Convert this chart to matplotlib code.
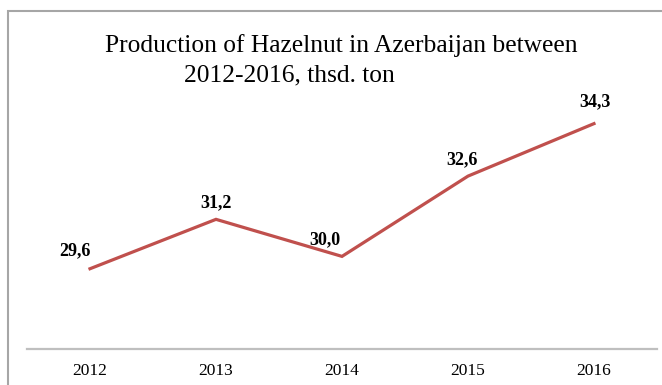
import matplotlib.pyplot as plt
from matplotlib.patches import Rectangle

years = ['2012', '2013', '2014', '2015', '2016']
production = [29.6, 31.2, 30.0, 32.6, 34.3]
value_labels = ['29,6', '31,2', '30,0', '32,6', '34,3']

# label offsets (points) relative to each data point
label_offsets = [(-11, 7), (0, 6), (-12, 6), (-4, 6), (1, 10)]

plt.rcParams['font.family'] = ['Liberation Serif', 'DejaVu Serif']

fig = plt.figure(figsize=(6.62, 3.85), dpi=100)
ax = fig.add_axes([0.0408, 0.0935, 0.9516, 0.6415])

x = range(len(years))
ax.plot(x, production, color='#C0504D', linewidth=2.3, solid_joinstyle='miter')

for xi, yi, txt, off in zip(x, production, value_labels, label_offsets):
    ax.annotate(txt, (xi, yi), xytext=off, textcoords='offset points',
                ha='center', va='bottom', fontsize=13, fontweight='bold')

ax.set_xlim(-0.5, len(years) - 0.5)
ax.set_ylim(27, 35)
ax.set_xticks(list(x))
ax.set_xticklabels(years, fontsize=12.5)
ax.tick_params(axis='x', length=0, pad=10)
ax.set_yticks([])

for side in ['top', 'right', 'left']:
    ax.spines[side].set_visible(False)
ax.spines['bottom'].set_color('#BFBFBF')
ax.spines['bottom'].set_linewidth(1.6)

# chart border, running off the right and bottom edges
fig.patches.append(Rectangle((8 / 662, -0.1), 1.2, (385 - 11) / 385 + 0.1,
                             transform=fig.transFigure, fill=False,
                             edgecolor='#A6A6A6', linewidth=1.5))

fig.text(341 / 662, 1 - 52 / 385, 'Production of Hazelnut in Azerbaijan between',
         ha='center', va='baseline', fontsize=18.4)
fig.text(184 / 662, 1 - 81 / 385, '2012-2016, thsd. ton',
         ha='left', va='baseline', fontsize=18.4)

fig.savefig('out.png', dpi=100)
